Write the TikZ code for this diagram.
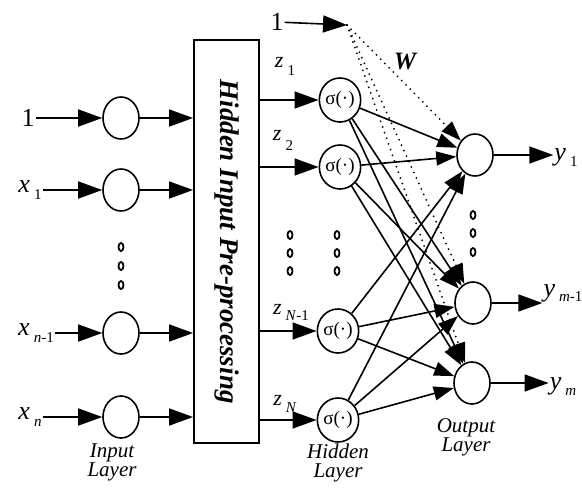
\documentclass[tikz,border=0pt]{standalone}
\usepackage{fontspec}
\setmainfont{Liberation Serif}
\usetikzlibrary{arrows.meta,shapes.geometric}
\newcommand\sublab[3][7pt]{\textit{#2}\hspace{4pt}\raisebox{-#1}{\fontsize{15}{15}\selectfont #3}}
\begin{document}
\begin{tikzpicture}[x=1pt,y=-1pt,
  neuron/.style={draw, ellipse, line width=1.6pt, minimum width=36pt, minimum height=42pt, inner sep=0pt},
  hid/.style={neuron, minimum height=44pt, font=\fontsize{19}{19}\selectfont},
  lab/.style={inner sep=1pt, font=\fontsize{26}{26}\selectfont},
  zlab/.style={inner sep=0pt, font=\fontsize{22}{22}\selectfont},
  layer/.style={align=center, inner sep=0pt, font=\fontsize{21}{19}\selectfont\itshape},
  arr/.style={line width=1.6pt, -{Triangle[length=24pt,width=17pt]}},
  farr/.style={line width=1.6pt, -{Triangle[length=20pt,width=14pt]}},
  darr/.style={line width=2pt, line cap=round, dash pattern=on 0pt off 6pt, -{Triangle[length=20pt,width=14pt]}},
  odot/.style={draw, ellipse, line width=1.8pt, minimum width=5pt, minimum height=8pt, inner sep=0pt}
]
\useasboundingbox (0,0) rectangle (582,493);

% input layer
\node[neuron] (i0) at (121,118) {};
\node[neuron] (i1) at (121,190) {};
\node[neuron] (i2) at (121,333) {};
\node[neuron] (i3) at (121,417) {};
\node[lab] (l0) at (28,118) {1};
\node[lab] (l1) at (30,190) {\sublab{x}{1}};
\node[lab] (l2) at (36,333) {\sublab{x}{\textit{n}-1}};
\node[lab] (l3) at (30,417) {\sublab{x}{\textit{n}}};
\draw[arr] (l0) -- (i0);
\draw[arr] (l1) -- (i1);
\draw[arr] (l2) -- (i2);
\draw[arr] (l3) -- (i3);
\node[odot] (d1) at (121,247) {};
\node[odot] (d2) at (121,266) {};
\node[odot] (d3) at (121,285) {};
\node[layer] (inl) at (112,462) {Input\\Layer};

% box
\node[draw, line width=1.8pt, minimum width=65pt, minimum height=403pt, inner sep=0pt] (box) at (226.5,241.5) {};
\node[rotate=-90, font=\fontsize{27}{27}\selectfont\bfseries\itshape] (boxt) at (box.center) {Hidden Input Pre-processing};
\draw[arr] (i0) -- (i0 -| box.west);
\draw[arr] (i1) -- (i1 -| box.west);
\draw[arr] (i2) -- (i2 -| box.west);
\draw[arr] (i3) -- (i3 -| box.west);

% hidden layer
\node[hid] (h1) at (340,100) {σ(·)};
\node[hid] (h2) at (340,167) {σ(·)};
\node[hid] (h3) at (338,331) {σ(·)};
\node[hid] (h4) at (338,420) {σ(·)};
\draw[arr] (h1 -| box.east) -- (h1);
\draw[arr] (h2 -| box.east) -- (h2);
\draw[arr] (h3 -| box.east) -- (h3);
\draw[arr] (h4 -| box.east) -- (h4);
\node[zlab] (z1) at (285,66) {\sublab[8pt]{z}{1}};
\node[zlab] (z2) at (283,140) {\sublab[10pt]{z}{2}};
\node[zlab] (z3) at (291,312) {\sublab[6pt]{z}{\textit{N}-1}};
\node[zlab] (z4) at (285,404) {\sublab[7pt]{z}{\textit{N}}};
\node[odot] (e1) at (290,235) {};
\node[odot] (e2) at (290,253) {};
\node[odot] (e3) at (290,271) {};
\node[odot] (f1) at (337,235) {};
\node[odot] (f2) at (337,253) {};
\node[odot] (f3) at (337,271) {};
\node[layer] (hdl) at (338,463) {Hidden\\Layer};

% output layer
\node[neuron] (o1) at (475,155) {};
\node[neuron] (o2) at (473,303) {};
\node[neuron] (o3) at (472,383) {};
\node[lab] (y1) at (566,158) {\sublab[6pt]{y}{1}};
\node[lab] (y2) at (563,293) {\sublab[5pt]{y}{\textit{m}-1}};
\node[lab] (y3) at (563,387) {\sublab[6pt]{y}{\textit{m}}};
\draw[arr] (o1) -- (o1 -| y1.west);
\draw[arr] (o2) -- (o2 -| y2.west);
\draw[arr] (o3) -- (o3 -| y3.west);
\node[odot] (g1) at (473,215) {};
\node[odot] (g2) at (473,233) {};
\node[odot] (g3) at (473,252) {};
\node[layer] (otl) at (466,437) {Output\\Layer};

% bias
\node[lab] (b0) at (277,22) {1};
\coordinate (bias) at (347,25);
\draw[arr] (b0) -- (bias);
\node[font=\fontsize{25}{25}\selectfont\bfseries\itshape] (W) at (405,62) {W};
\foreach \o in {o1,o2,o3} \draw[darr] (bias) -- (\o);

% hidden to output
\foreach \h in {h1,h2,h3,h4}
  \foreach \o in {o1,o2,o3}
    \draw[farr] (\h) -- (\o);
\end{tikzpicture}
\end{document}
